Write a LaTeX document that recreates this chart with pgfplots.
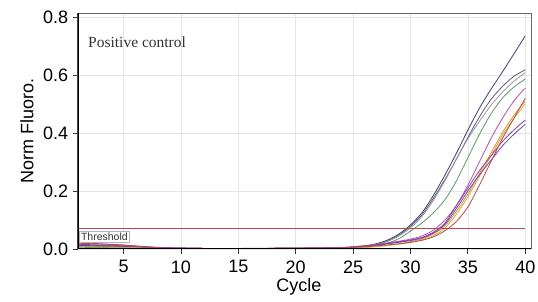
\documentclass[border=0pt]{standalone}
\usepackage{pgfplots}
\pgfplotsset{compat=1.18}
\usepackage{fontspec}
\setmainfont{Liberation Sans}
\newfontfamily\seriffont{Liberation Serif}
\definecolor{cnavy}{HTML}{3A3F6E}
\definecolor{cslate}{HTML}{5A6078}
\definecolor{cgray}{HTML}{9A98A8}
\definecolor{cgreen}{HTML}{5E9A60}
\definecolor{cmag}{HTML}{B050B8}
\definecolor{corange}{HTML}{E0902A}
\definecolor{cgold}{HTML}{C8B040}
\definecolor{cpurple}{HTML}{9040A0}
\definecolor{cviolet}{HTML}{6A4AB0}
\definecolor{cred}{HTML}{C04848}
\definecolor{cthr}{HTML}{BC4656}
\begin{document}
\begin{tikzpicture}
\useasboundingbox (0,0) rectangle (538pt,302pt);
\begin{axis}[
  at={(77.7pt,53pt)}, anchor=south west,
  width=453.3pt, height=235.5pt, scale only axis,
  xmin=1, xmax=40.5, ymin=0, ymax=0.812,
  xtick={5,10,...,40}, ytick={0,0.2,0.4,0.6,0.8},
  yticklabel style={xshift=-1pt, /pgf/number format/.cd, fixed, fixed zerofill, precision=1},
  /pgf/number format/assume math mode=true,
  tick label style={font=\fontsize{18}{21}\selectfont},
  xticklabel style={yshift=-3pt},
  grid=major, major grid style={black!10, line width=0.6pt},
  axis line style={draw=black!60, line width=1pt},
  tick pos=left, tick align=outside, major tick length=5pt,
  tick style={black!80, line width=0.8pt},
  xlabel={Cycle}, ylabel={Norm Fluoro.},
  label style={font=\fontsize{18}{21}\selectfont},
  xlabel style={at={(axis description cs:0.488,-0.16)}, anchor=center},
  ylabel style={at={(axis description cs:-0.112,0.501)}, anchor=center},
  every axis plot/.append style={line width=0.8pt, smooth},
]
\addplot[cnavy] coordinates {(1,0.010)(3,0.009)(5,0.007)(7,0.005)(9,0.003)(12,0.002)(15,0.001)(18,0.002)(21,0.003)(24,0.004)(25,0.006)(26,0.010)(27,0.018)(28,0.031)(29,0.052)(30,0.083)(31,0.125)(32,0.185)(33,0.255)(34,0.33)(35,0.41)(36,0.485)(37,0.55)(38,0.61)(39,0.672)(40,0.735)};
\addplot[cslate] coordinates {(1,0.014)(3,0.012)(5,0.009)(7,0.006)(9,0.003)(12,0.002)(15,0.002)(18,0.003)(21,0.003)(24,0.004)(25,0.006)(26,0.009)(27,0.016)(28,0.028)(29,0.048)(30,0.078)(31,0.118)(32,0.175)(33,0.24)(34,0.31)(35,0.385)(36,0.455)(37,0.515)(38,0.56)(39,0.595)(40,0.618)};
\addplot[cgray] coordinates {(1,0.008)(3,0.007)(5,0.006)(7,0.004)(9,0.003)(12,0.002)(15,0.001)(18,0.002)(21,0.003)(24,0.004)(25,0.005)(26,0.008)(27,0.015)(28,0.026)(29,0.045)(30,0.073)(31,0.112)(32,0.168)(33,0.235)(34,0.31)(35,0.38)(36,0.44)(37,0.495)(38,0.54)(39,0.578)(40,0.608)};
\addplot[cgreen] coordinates {(1,0.006)(3,0.005)(5,0.004)(7,0.003)(9,0.002)(12,0.002)(15,0.001)(18,0.002)(21,0.003)(24,0.004)(25,0.005)(26,0.006)(27,0.011)(28,0.020)(29,0.036)(30,0.062)(31,0.09)(32,0.125)(33,0.17)(34,0.235)(35,0.315)(36,0.395)(37,0.465)(38,0.52)(39,0.558)(40,0.586)};
\addplot[cmag] coordinates {(1,0.022)(3,0.018)(5,0.014)(7,0.008)(9,0.004)(12,0.002)(15,0.001)(18,0.002)(21,0.003)(24,0.005)(25,0.008)(26,0.012)(27,0.016)(28,0.021)(29,0.027)(30,0.034)(31,0.045)(32,0.065)(33,0.10)(34,0.15)(35,0.22)(36,0.30)(37,0.38)(38,0.45)(39,0.51)(40,0.555)};
\addplot[corange] coordinates {(1,0.012)(3,0.010)(5,0.008)(7,0.005)(9,0.003)(12,0.002)(15,0.001)(18,0.002)(21,0.003)(24,0.004)(25,0.005)(26,0.006)(27,0.009)(28,0.013)(29,0.018)(30,0.025)(31,0.035)(32,0.052)(33,0.08)(34,0.13)(35,0.19)(36,0.26)(37,0.33)(38,0.40)(39,0.46)(40,0.51)};
\addplot[cgold] coordinates {(1,0.008)(3,0.007)(5,0.006)(7,0.004)(9,0.002)(12,0.002)(15,0.001)(18,0.002)(21,0.003)(24,0.004)(25,0.004)(26,0.005)(27,0.008)(28,0.012)(29,0.017)(30,0.023)(31,0.032)(32,0.046)(33,0.072)(34,0.12)(35,0.18)(36,0.25)(37,0.32)(38,0.39)(39,0.45)(40,0.50)};
\addplot[cpurple] coordinates {(1,0.016)(3,0.014)(5,0.011)(7,0.007)(9,0.004)(12,0.002)(15,0.001)(18,0.002)(21,0.003)(24,0.005)(25,0.007)(26,0.010)(27,0.014)(28,0.019)(29,0.025)(30,0.031)(31,0.04)(32,0.058)(33,0.09)(34,0.15)(35,0.21)(36,0.27)(37,0.32)(38,0.37)(39,0.41)(40,0.445)};
\addplot[cviolet] coordinates {(1,0.012)(3,0.011)(5,0.009)(7,0.006)(9,0.004)(12,0.002)(15,0.001)(18,0.002)(21,0.003)(24,0.005)(25,0.007)(26,0.009)(27,0.013)(28,0.018)(29,0.023)(30,0.029)(31,0.038)(32,0.055)(33,0.085)(34,0.14)(35,0.20)(36,0.255)(37,0.305)(38,0.355)(39,0.395)(40,0.43)};
\addplot[cred] coordinates {(1,0.020)(3,0.017)(5,0.013)(7,0.007)(9,0.003)(12,0.002)(15,0.001)(18,0.002)(21,0.003)(24,0.004)(25,0.006)(26,0.008)(27,0.011)(28,0.014)(29,0.018)(30,0.023)(31,0.03)(32,0.042)(33,0.063)(34,0.095)(35,0.145)(36,0.22)(37,0.30)(38,0.38)(39,0.45)(40,0.52)};
\addplot[cthr, line width=0.9pt, sharp plot] coordinates {(1,0.071)(40,0.071)};
\draw[black, line width=1.8pt] (rel axis cs:0,1) -- (rel axis cs:0,0) -- (rel axis cs:1,0);
\node[anchor=west, inner sep=0pt, text=black!80, font=\seriffont\fontsize{15.5}{18}\selectfont] at (rel axis cs:0.0227,0.879) {Positive control};
\node[anchor=south west, draw=black!30, fill=white, inner sep=1.8pt, text=black!80, font=\fontsize{10.5}{12}\selectfont] at (rel axis cs:0.003,0.026) {Threshold};
\end{axis}
\end{tikzpicture}
\end{document}
